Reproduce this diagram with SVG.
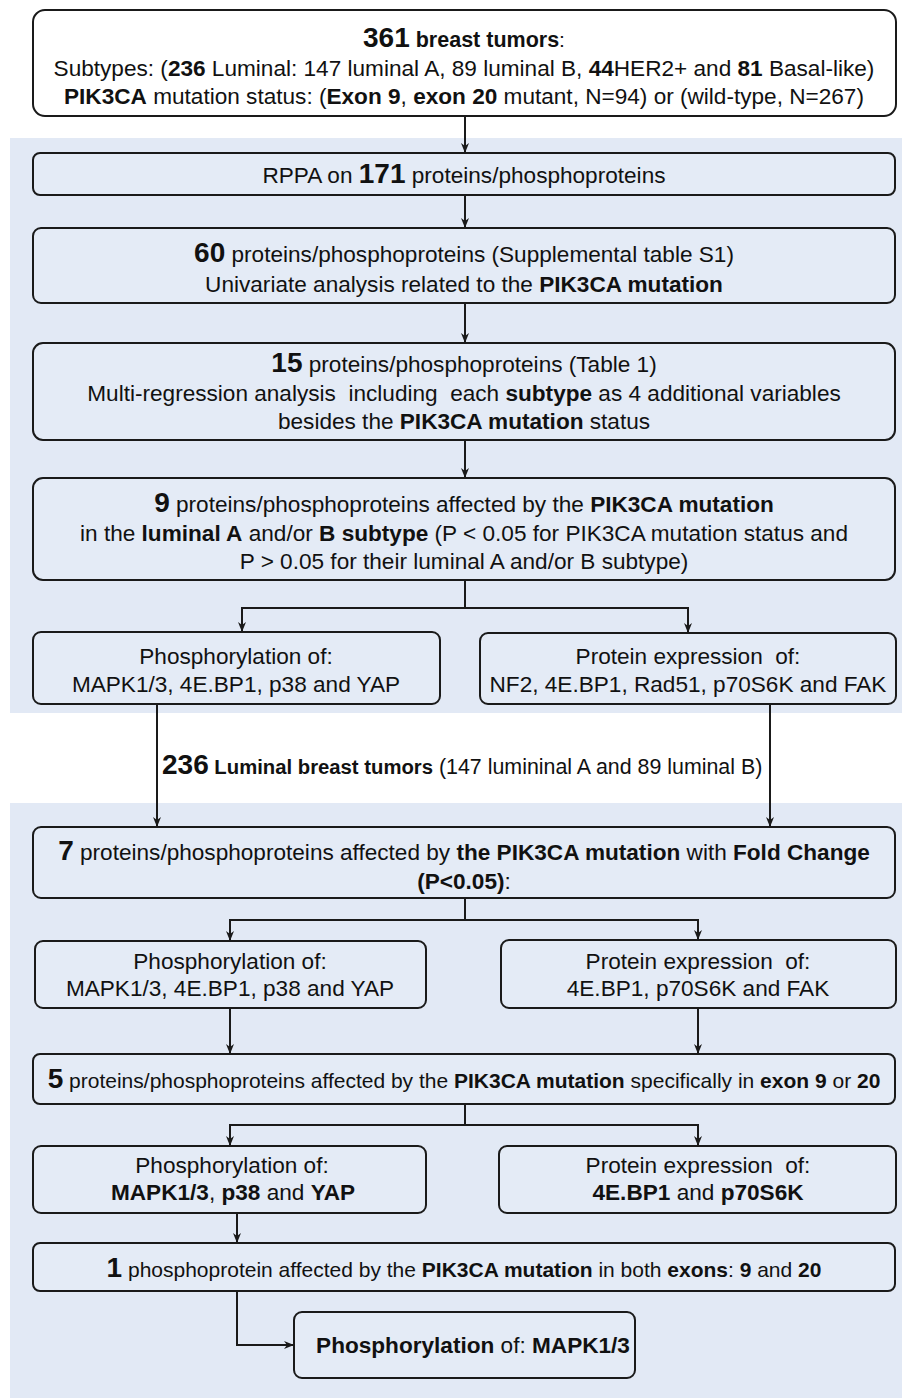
<svg xmlns="http://www.w3.org/2000/svg" width="902" height="1398" viewBox="0 0 902 1398">
<defs>
<style>
text{font-family:"Liberation Sans",Arial,sans-serif;font-size:22.6px;fill:#111;text-anchor:middle}
.sm{font-size:21px}
.b{font-weight:bold}
.n{font-weight:bold;font-size:28px}
.box{fill:#e4ebf6;stroke:#1a1a1a;stroke-width:2}
.wbox{fill:#fff;stroke:#1a1a1a;stroke-width:2}
.ln{fill:none;stroke:#1a1a1a;stroke-width:2}
.panel{fill:#e2e9f5}
</style>
<marker id="ah" viewBox="0 0 10 10" refX="10" refY="5" markerWidth="10" markerHeight="10" markerUnits="userSpaceOnUse" orient="auto">
<path d="M0,1 L10,5 L0,9 L3,5 Z" fill="#1a1a1a"/>
</marker>
</defs>
<rect width="902" height="1398" fill="#fff"/>
<rect class="panel" x="10" y="138" width="892" height="575"/>
<rect class="panel" x="10" y="803" width="892" height="595"/>

<g id="connectors">
<path class="ln" d="M465,116 V153" marker-end="url(#ah)"/>
<path class="ln" d="M465,195 V228" marker-end="url(#ah)"/>
<path class="ln" d="M465,303 V343" marker-end="url(#ah)"/>
<path class="ln" d="M465,440 V478" marker-end="url(#ah)"/>
<path class="ln" d="M465,580 V608 H242 V632" marker-end="url(#ah)"/>
<path class="ln" d="M465,608 H688 V633" marker-end="url(#ah)"/>
<path class="ln" d="M157,704 V827" marker-end="url(#ah)"/>
<path class="ln" d="M770,704 V827" marker-end="url(#ah)"/>
<path class="ln" d="M465,898 V920 H230 V941" marker-end="url(#ah)"/>
<path class="ln" d="M465,920 H698 V940" marker-end="url(#ah)"/>
<path class="ln" d="M230,1008 V1054" marker-end="url(#ah)"/>
<path class="ln" d="M698,1008 V1054" marker-end="url(#ah)"/>
<path class="ln" d="M465,1104 V1125 H230 V1146" marker-end="url(#ah)"/>
<path class="ln" d="M465,1125 H698 V1146" marker-end="url(#ah)"/>
<path class="ln" d="M237,1213 V1243" marker-end="url(#ah)"/>
<path class="ln" d="M237,1291 V1345 H294" marker-end="url(#ah)"/>
</g>

<g id="n361">
<rect class="wbox" x="33" y="10" width="863" height="106" rx="12"/>
<text x="464" y="47"><tspan class="n">361</tspan><tspan class="b" style="font-size:21.5px"> breast tumors</tspan><tspan class="sm">:</tspan></text>
<text x="464" y="76">Subtypes: (<tspan class="b">236</tspan> Luminal: 147 luminal A, 89 luminal B, <tspan class="b">44</tspan>HER2+ and <tspan class="b">81</tspan> Basal-like)</text>
<text x="464" y="104"><tspan class="b">PIK3CA</tspan> mutation status:  (<tspan class="b">Exon 9</tspan>, <tspan class="b">exon 20</tspan> mutant, N=94) or (wild-type, N=267)</text>
</g>

<g id="nRPPA">
<rect class="box" x="33" y="153" width="862" height="42" rx="7"/>
<text x="464" y="183">RPPA on <tspan class="n">171</tspan> proteins/phosphoproteins</text>
</g>

<g id="n60">
<rect class="box" x="33" y="228" width="862" height="75" rx="8"/>
<text x="464" y="262"><tspan class="n">60</tspan> proteins/phosphoproteins (Supplemental table S1)</text>
<text x="464" y="292">Univariate analysis related to the <tspan class="b">PIK3CA mutation</tspan></text>
</g>

<g id="n15">
<rect class="box" x="33" y="343" width="862" height="97" rx="10"/>
<text x="464" y="372"><tspan class="n">15</tspan> proteins/phosphoproteins (Table 1)</text>
<text x="464" y="401" xml:space="preserve">Multi-regression analysis  including  each <tspan class="b">subtype</tspan> as 4 additional variables</text>
<text x="464" y="429">besides the <tspan class="b">PIK3CA mutation</tspan> status</text>
</g>

<g id="n9">
<rect class="box" x="33" y="478" width="862" height="102" rx="10"/>
<text x="464" y="512"><tspan class="n">9</tspan> proteins/phosphoproteins affected by the <tspan class="b">PIK3CA mutation</tspan></text>
<text x="464" y="541">in the <tspan class="b">luminal A</tspan> and/or <tspan class="b">B subtype</tspan> (P &lt; 0.05 for PIK3CA mutation status and</text>
<text x="464" y="569">P &gt; 0.05 for their luminal A and/or B subtype)</text>
</g>

<g id="nPhos1">
<rect class="box" x="33" y="632" width="407" height="72" rx="8"/>
<text x="236" y="664">Phosphorylation of:</text>
<text x="236" y="692">MAPK1/3, 4E.BP1, p38 and YAP</text>
</g>

<g id="nProt1">
<rect class="box" x="480" y="633" width="416" height="71" rx="8"/>
<text x="688" y="664" xml:space="preserve">Protein expression  of:</text>
<text x="688" y="692">NF2, 4E.BP1, Rad51, p70S6K and FAK</text>
</g>

<text x="162" y="774" style="text-anchor:start;font-size:21.4px"><tspan class="n">236</tspan><tspan class="b" style="font-size:20.3px"> Luminal breast tumors</tspan> (147 lumininal A and 89 luminal B)</text>

<g id="n7">
<rect class="box" x="33" y="827" width="862" height="71" rx="8"/>
<text x="464" y="860"><tspan class="n">7</tspan> proteins/phosphoproteins affected by <tspan class="b">the PIK3CA mutation</tspan> with <tspan class="b">Fold Change</tspan></text>
<text x="464" y="889"><tspan class="b">(P&lt;0.05)</tspan>:</text>
</g>

<g id="nPhos2">
<rect class="box" x="35" y="941" width="391" height="67" rx="8"/>
<text x="230" y="969">Phosphorylation of:</text>
<text x="230" y="996">MAPK1/3, 4E.BP1, p38 and YAP</text>
</g>

<g id="nProt2">
<rect class="box" x="501" y="940" width="395" height="68" rx="8"/>
<text x="698" y="969" xml:space="preserve">Protein expression  of:</text>
<text x="698" y="996">4E.BP1, p70S6K and FAK</text>
</g>

<g id="n5">
<rect class="box" x="33" y="1054" width="862" height="50" rx="7"/>
<text x="464" y="1088" class="sm"><tspan class="n">5</tspan> proteins/phosphoproteins affected by the <tspan class="b">PIK3CA mutation</tspan> specifically in <tspan class="b">exon 9</tspan> or <tspan class="b">20</tspan></text>
</g>

<g id="nPhos3">
<rect class="box" x="33" y="1146" width="393" height="67" rx="8"/>
<text x="232" y="1173">Phosphorylation of:</text>
<text x="233" y="1200"><tspan class="b">MAPK1/3</tspan>, <tspan class="b">p38</tspan> and <tspan class="b">YAP</tspan></text>
</g>

<g id="nProt3">
<rect class="box" x="499" y="1146" width="397" height="67" rx="8"/>
<text x="698" y="1173" xml:space="preserve">Protein expression  of:</text>
<text x="698" y="1200"><tspan class="b">4E.BP1</tspan> and <tspan class="b">p70S6K</tspan></text>
</g>

<g id="n1">
<rect class="box" x="33" y="1243" width="862" height="48" rx="7"/>
<text x="464" y="1277" class="sm"><tspan class="n">1</tspan> phosphoprotein affected by the <tspan class="b">PIK3CA mutation</tspan> in both <tspan class="b">exons</tspan>: <tspan class="b">9</tspan> and <tspan class="b">20</tspan></text>
</g>

<g id="nFinal">
<rect class="box" x="294" y="1312" width="341" height="66" rx="8"/>
<text x="473" y="1353"><tspan class="b">Phosphorylation</tspan> of: <tspan class="b">MAPK1/3</tspan></text>
</g>
</svg>
